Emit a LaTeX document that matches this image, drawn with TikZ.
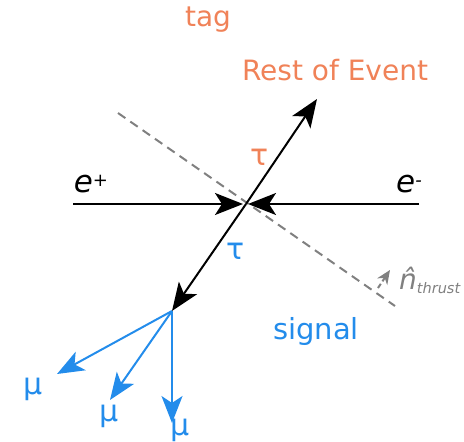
\documentclass[tikz,border=0pt]{standalone}
\usepackage{fontspec}
\setmainfont{DejaVu Sans}
\usetikzlibrary{arrows.meta, positioning}
\definecolor{tagorange}{RGB}{240,130,88}
\definecolor{sigblue}{RGB}{35,140,235}
\definecolor{axisgray}{RGB}{128,128,128}
\tikzset{
  beam/.style={-{Stealth[length=28pt,width=22pt,inset=7pt]}, line width=2pt, color=black},
  muon/.style={-{Stealth[length=27pt,width=21pt,inset=7pt]}, line width=2pt, color=sigblue},
  thrustline/.style={dash pattern=on 9pt off 6pt, line width=2pt, color=axisgray},
  thrustarrow/.style={-{Stealth[length=14pt,width=12pt]}, dash pattern=on 5pt off 3pt, line width=2pt, color=axisgray},
  bigtag/.style={font=\fontsize{28}{30}\selectfont, text=tagorange},
  bigsig/.style={font=\fontsize{29}{31}\selectfont, text=sigblue},
  greek/.style={font=\fontsize{30}{32}\selectfont},
  beamlabel/.style={font=\fontsize{31}{33}\selectfont\itshape}
}
\begin{document}
\begin{tikzpicture}[x=1pt, y=-1pt]
  \useasboundingbox (0,0) rectangle (464,442);

  % Vertices
  \coordinate (ip) at (246,204);
  \coordinate (decay) at (172,311);
  \coordinate (eplus) at (73,204);
  \coordinate (eminus) at (419,204);
  \coordinate (roe) at (317,99);
  \coordinate (mu1) at (57,374);
  \coordinate (mu2) at (110,400);
  \coordinate (mu3) at (172,423);

  % Thrust plane
  \coordinate (plane1) at (118,113);
  \coordinate (plane2) at (395,306);
  \draw[thrustline] (plane1) -- (plane2);
  \coordinate (nfrom) at (378,288);
  \coordinate (nto) at (390,270);
  \draw[thrustarrow] (nfrom) -- (nto);
  \node[text=axisgray, font=\fontsize{28}{30}\selectfont, anchor=west, inner sep=0pt] (nlabel) at (399,280)
    {\^{\itshape n}\raisebox{-4pt}{\fontsize{14.5}{16}\selectfont\itshape thrust}};

  % Beams
  \draw[beam] (eplus) -- ([xshift=-3pt]ip);
  \draw[beam] (eminus) -- ([xshift=2pt]ip);
  \node[beamlabel] (eplab) at (91,184) {e\raisebox{6pt}{\fontsize{18}{20}\selectfont +}};
  \node[beamlabel] (emlab) at (409,184) {e\raisebox{6pt}{\fontsize{18}{20}\selectfont -}};

  % Taus
  \draw[beam] (ip) -- (roe);
  \draw[beam] (ip) -- (decay);
  \node[greek, text=tagorange] (tautag) at (260,157) {τ};
  \node[greek, text=sigblue] (tausig) at (236,251) {τ};

  % Muons
  \draw[muon] (decay) -- (mu1);
  \draw[muon] (decay) -- (mu2);
  \draw[muon] (decay) -- (mu3);
  \node[greek, text=sigblue] (mulab1) at (33,389) {μ};
  \node[greek, text=sigblue] (mulab2) at (109,416) {μ};
  \node[greek, text=sigblue] (mulab3) at (180,430) {μ};

  % Hemisphere labels
  \node[bigtag] (tag) at (208,20) {tag};
  \node[bigtag] (roelab) at (335,70) {Rest of Event};
  \node[bigsig] (signal) at (316,331) {signal};
\end{tikzpicture}
\end{document}
